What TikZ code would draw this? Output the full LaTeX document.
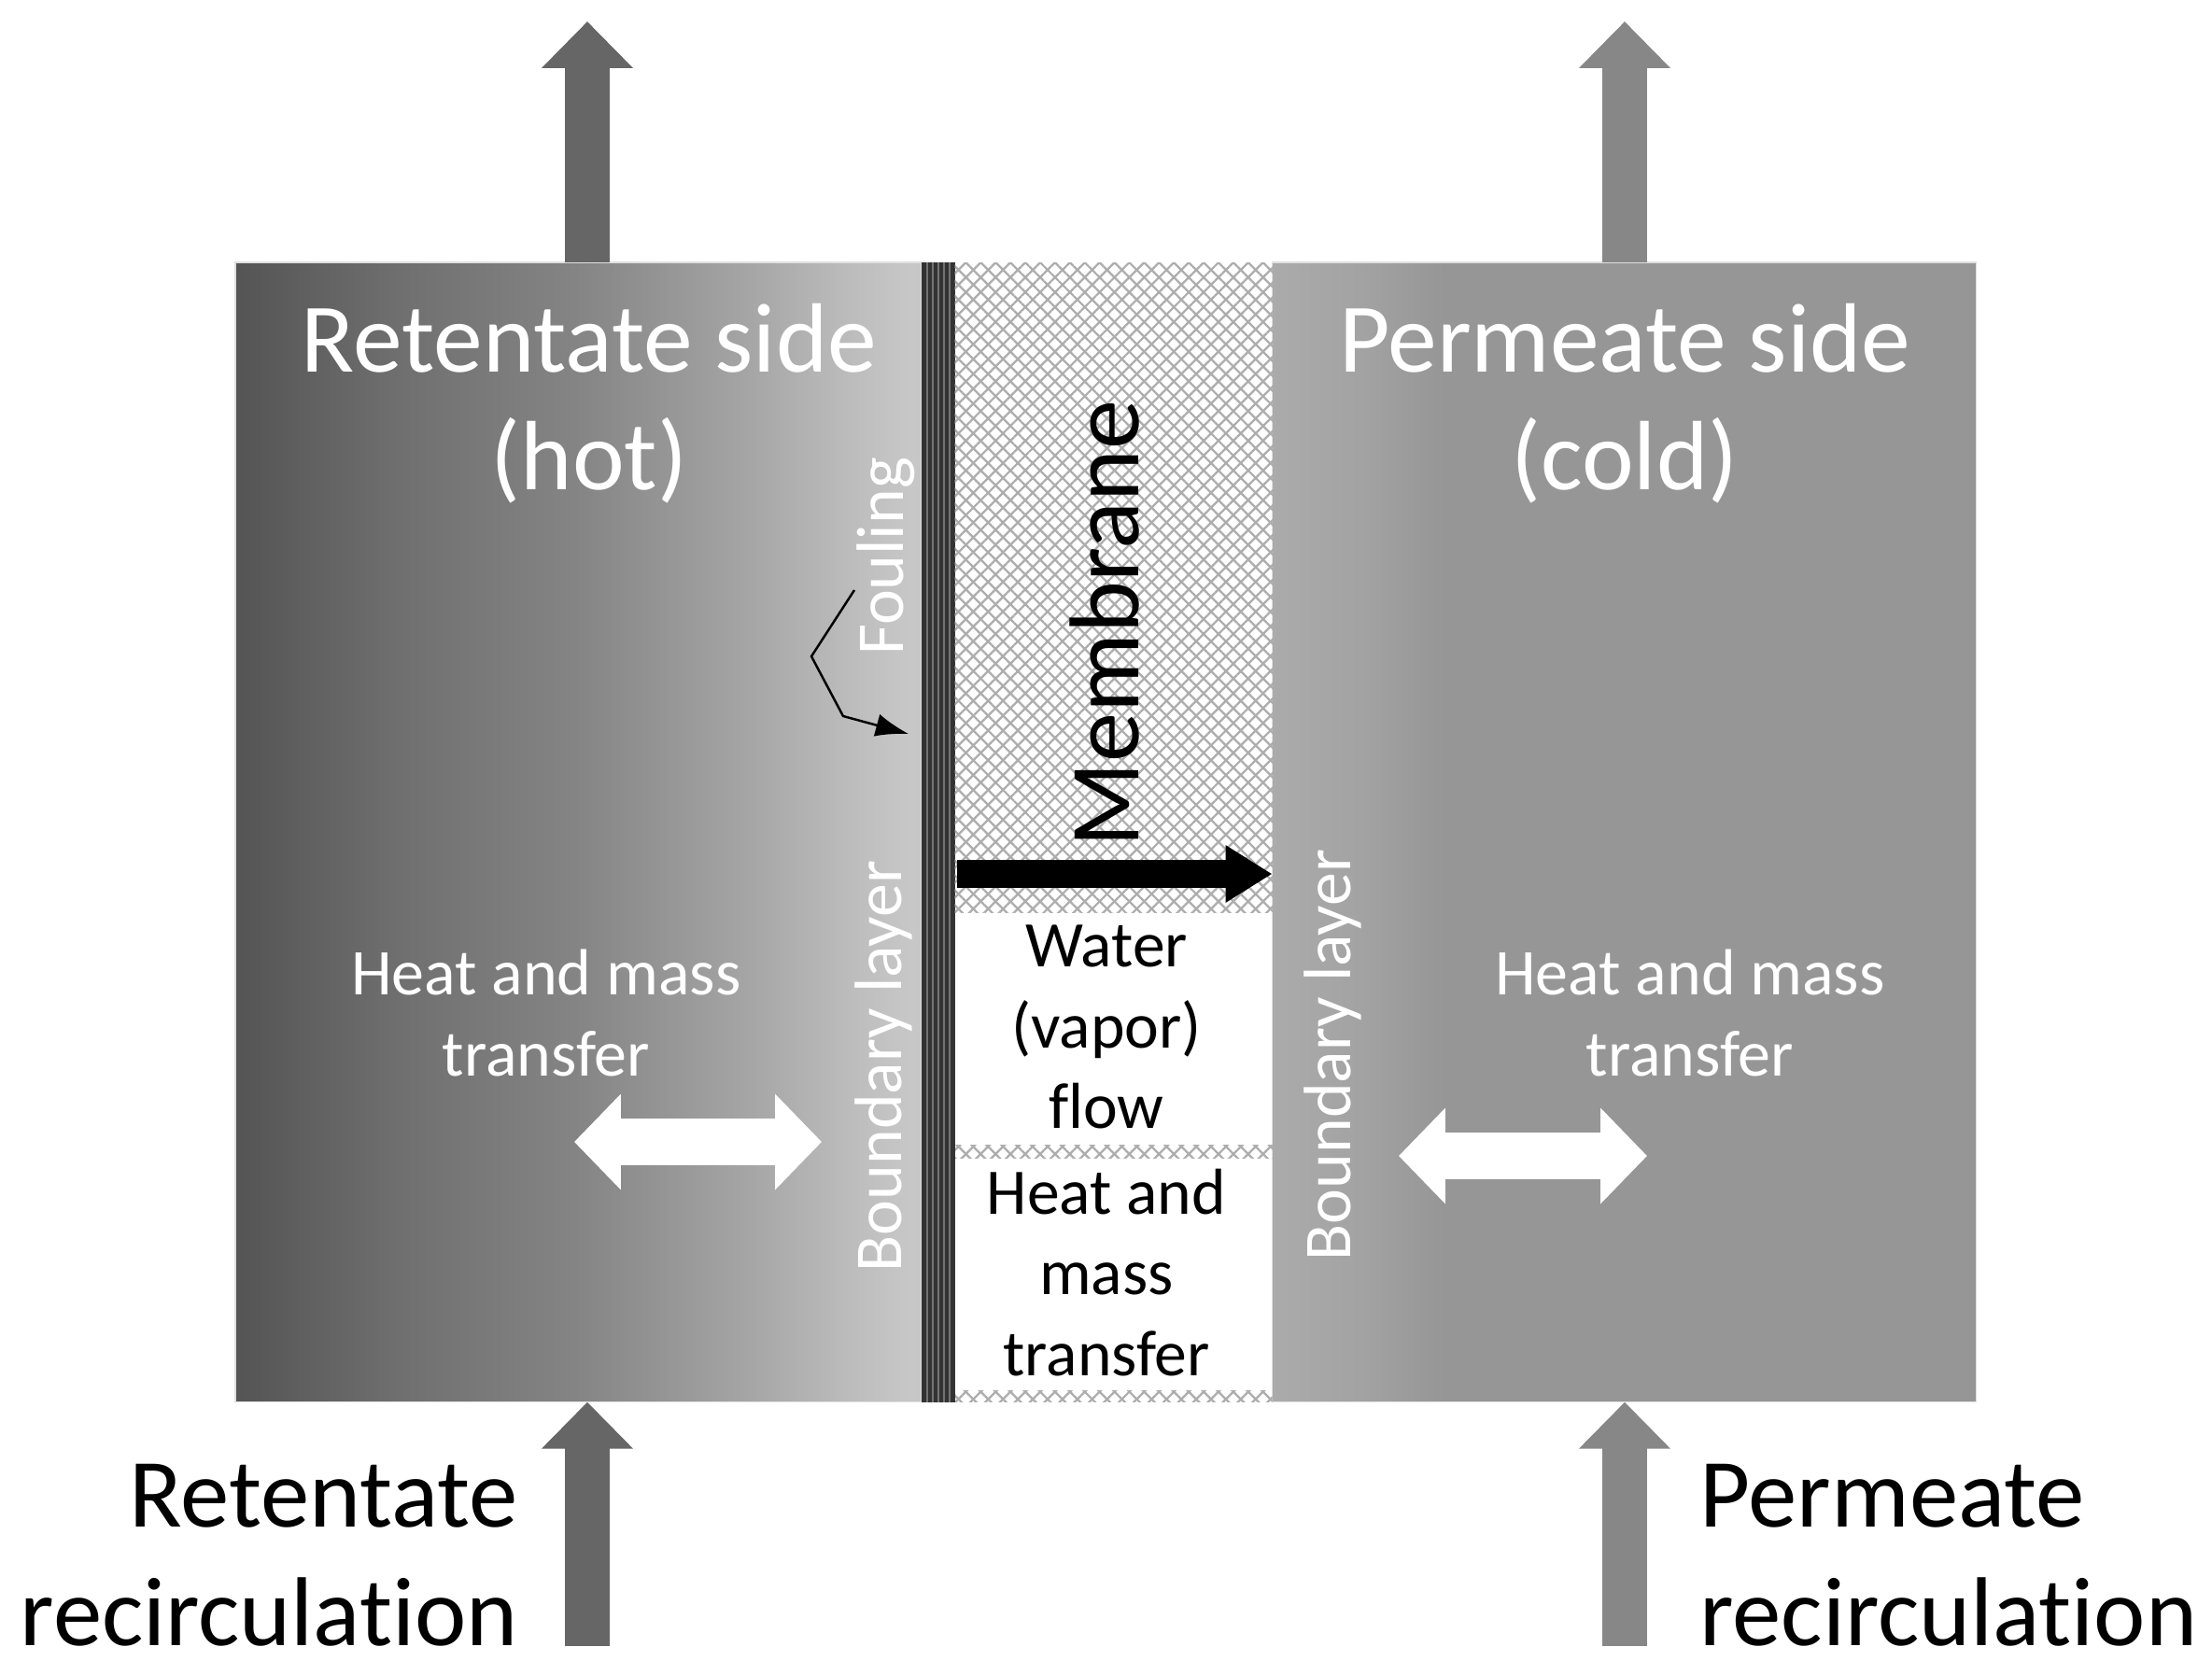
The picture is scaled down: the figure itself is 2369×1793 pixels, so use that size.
\documentclass[tikz,border=0pt]{standalone}
\usepackage{fontspec}
\setmainfont{Carlito}[Ligatures=NoCommon]
\usetikzlibrary{arrows.meta,positioning,patterns.meta}
\definecolor{hotArrow}{gray}{0.40}
\definecolor{coldArrow}{gray}{0.53}
\definecolor{foulDark}{gray}{0.20}
\definecolor{foulLight}{gray}{0.45}
\definecolor{hatchGray}{gray}{0.68}
\pgfdeclarehorizontalshading{hotGrad}{100bp}{
  color(0bp)=(black!67); color(25bp)=(black!67);
  color(37.5bp)=(black!56); color(50bp)=(black!48); color(62.5bp)=(black!35);
  color(70bp)=(black!26); color(74bp)=(black!22); color(100bp)=(black!22)}
\pgfdeclarehorizontalshading{coldGrad}{100bp}{
  color(0bp)=(black!33); color(25bp)=(black!33); color(31bp)=(black!36);
  color(37bp)=(black!41); color(75bp)=(black!41); color(100bp)=(black!41)}
\tikzset{%
  % Specifications for style of nodes:
        panel/.style = {rectangle, draw=black!12, line width=0.4pt, minimum height=347.1pt,
                        inner sep=0pt, outer sep=0pt},
      hotSide/.style = {panel, minimum width=209pt, shading=hotGrad},
      fouling/.style = {panel, minimum width=10.1pt, draw=none, fill=foulDark},
     membrane/.style = {panel, minimum width=96.7pt, draw=none, fill=white},
     coldSide/.style = {panel, minimum width=214.4pt, shading=coldGrad},
    bigLabel/.style  = {align=center, text=white, font=\fontsize{30}{36}\selectfont},
    midLabel/.style  = {align=center, text=white, font=\fontsize{19.9}{24.5}\selectfont},
   sideLabel/.style  = {text=white, rotate=90, font=\fontsize{20.4}{25}\selectfont},
    inLabel/.style   = {align=center, text=black, font=\fontsize{19.8}{24.5}\selectfont},
   feedLabel/.style  = {text=black, font=\fontsize{29.8}{36}\selectfont},
    feedFlow/.style  = {line width=13.7pt, -{Triangle[length=14.2pt,width=27pt]}},
     hotFlow/.style  = {feedFlow, draw=hotArrow},
    coldFlow/.style  = {feedFlow, draw=coldArrow},
   transFlow/.style  = {white, line width=14.2pt, {Triangle[length=14.2pt,width=28.4pt]}-{Triangle[length=14.2pt,width=28.4pt]}},
   vaporFlow/.style  = {black, line width=8.3pt, -{Triangle[length=14.2pt,width=16.5pt]}},
       hatch/.style  = {pattern={Lines[angle=45,distance=3.2pt,line width=0.65pt]}, pattern color=hatchGray},
      hatchB/.style  = {pattern={Lines[angle=-45,distance=3.2pt,line width=0.65pt]}, pattern color=hatchGray},
}
\begin{document}
\begin{tikzpicture}[x=0.01cm, y=-0.01cm]
\useasboundingbox (0,0) rectangle (2369,1793);

\node (hot)      [hotSide, anchor=north west] at (252,281)  {};
\node (foul)     [fouling, right=0pt of hot]                {};
\node (memb)     [membrane, right=0pt of foul]              {};
\node (cold)     [coldSide, right=0pt of memb]              {};

% stripes of the fouling layer
\foreach \i in {1,...,5}
  \draw[foulLight, line width=0.7pt] ([xshift=\i*1.7pt]foul.north west) -- ([xshift=\i*1.7pt]foul.south west);

% porous parts of the membrane
\foreach \s in {hatch,hatchB} {
  \fill[\s] (memb.north west) rectangle (1363,977);
  \fill[\s] (1023,1226) rectangle (1363,1240);
  \fill[\s] (1023,1489) rectangle (memb.south east);
}

% side arrows
\coordinate (hotIn)   at (629,1763);
\coordinate (hotOut)  at (629,23);
\coordinate (coldIn)  at (1740,1763);
\coordinate (coldOut) at (1740,23);
\draw[hotFlow]  (hotIn) -- (hot.south -| hotIn);
\draw[hotFlow]  (hot.north -| hotOut) -- (hotOut);
\draw[coldFlow] (coldIn) -- (cold.south -| coldIn);
\draw[coldFlow] (cold.north -| coldOut) -- (coldOut);

\coordinate (hotA)  at (615,1223);
\coordinate (hotB)  at (880,1223);
\coordinate (coldA) at (1498,1238);
\coordinate (coldB) at (1764,1238);
\draw[transFlow] (hotA) -- (hotB);
\draw[transFlow] (coldA) -- (coldB);

\coordinate (vapor) at (1025,936);
\draw[vaporFlow] (vapor) -- (memb.east |- vapor);

\node (hotTitle)  [bigLabel] at (631,432)  {Retentate side\\(hot)};
\node (coldTitle) [bigLabel] at (1740,432) {Permeate side\\(cold)};

\node (foulText)  [sideLabel] at (949,596)  {Fouling};
\node (blHot)     [sideLabel] at (946,1142) {Boundary layer};
\node (blCold)    [sideLabel] at (1427,1130) {Boundary layer};

\coordinate (foulA) at (915,632);
\coordinate (foulB) at (869,703);
\coordinate (foulC) at (903,767);
\coordinate (foulD) at (973,786);
\draw[-{Latex[length=10pt,width=7pt]}, line width=0.7pt] (foulA) -- (foulB) -- (foulC) -- (foulD);

\node (hmHot)     [midLabel] at (585,1085)  {Heat and mass\\transfer};
\node (hmCold)    [midLabel] at (1810,1085) {Heat and mass\\transfer};

\node (membText)  [text=black, rotate=90, font=\fontsize{30.2}{36}\selectfont] at (1183,668) {Membrane};
\node (waterText) [inLabel] at (1185,1100) {Water\\(vapor)\\flow};
\node (massText)  [inLabel] at (1185,1363) {Heat and\\mass\\transfer};

\node (hotFeed)   [feedLabel, align=right, anchor=east] at (567,1666)  {Retentate\\recirculation};
\node (coldFeed)  [feedLabel, align=left, anchor=west]  at (1808,1666) {Permeate\\recirculation};
\end{tikzpicture}
\end{document}
